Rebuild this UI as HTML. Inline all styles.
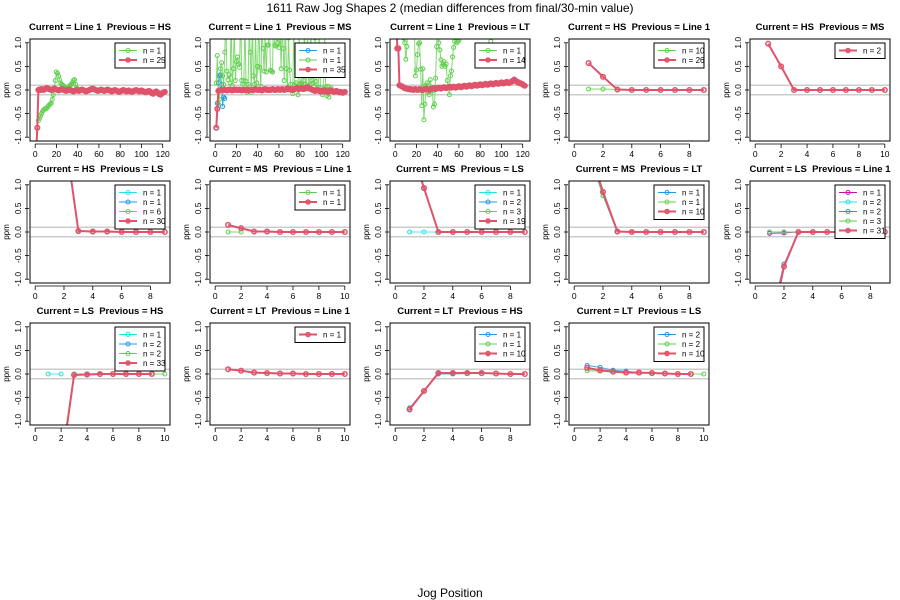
<!DOCTYPE html>
<html><head><meta charset="utf-8">
<style>
body{margin:0;background:#fff;}
svg{display:block;font-family:"Liberation Sans",sans-serif;}
text{white-space:pre;}
</style></head>
<body>
<svg id="chart" width="900" height="600" viewBox="0 0 900 600">
<rect x="0" y="0" width="900" height="600" fill="#fff"/>
<text x="450" y="12" text-anchor="middle" font-size="12" fill="#000">1611 Raw Jog Shapes 2 (median differences from final/30-min value)</text>
<text x="450" y="597" text-anchor="middle" font-size="12" fill="#000">Jog Position</text>
</svg>
<script>
// ---- data (values start at jog position 1) ----
const p1Green = [NaN,NaN,-0.65,-0.6,-0.55,-0.5,-0.45,-0.42,-0.4,-0.4,-0.38,-0.35,-0.32,-0.3,-0.28,-0.2,-0.1,0.05,0.2,0.38,0.35,0.3,0.22,0.15,0.12,0.1,0.08,0.05,0.04,0.05,0.06,0.08,0.1,0.12,0.15,0.2,0.22,0.12,0.05,0.02];
const p1Red = [-1.3,-0.8,0.0,0.01,0.0,0.02,0.01,0.0,0.02,0.03,0.04,0.03,0.02,0.01,0.0,0.01,0.02,0.03,0.02,0.01,
 0.0,-0.01,0.0,0.01,0.02,0.01,0.0,-0.01,-0.02,-0.01,0.0,0.01,0.0,-0.01,-0.02,-0.03,-0.02,-0.01,0.0,-0.01,
 -0.02,-0.01,0.0,0.01,0.0,-0.01,-0.02,-0.03,-0.02,-0.01,0.0,0.01,0.02,0.03,0.02,0.01,0.0,-0.01,-0.02,-0.01,
 0.0,0.01,0.0,-0.01,-0.02,-0.01,0.0,0.01,0.0,-0.01,-0.02,-0.03,-0.02,-0.01,0.0,-0.01,-0.02,-0.03,-0.04,-0.03,
 -0.02,-0.01,0.0,-0.01,-0.02,-0.03,-0.02,-0.01,-0.02,-0.03,-0.04,-0.03,-0.02,-0.01,0.0,-0.01,-0.02,-0.03,-0.02,-0.01,
 -0.02,-0.03,-0.04,-0.05,-0.04,-0.03,-0.02,-0.03,-0.05,-0.07,-0.08,-0.06,-0.04,-0.03,-0.05,-0.07,-0.09,-0.1,-0.08,-0.06,-0.05,-0.04];
const p2Blue = [-0.8,-0.28,0.15,0.3,0.32,0.12,-0.35,-0.15,-0.18];
const p2Green = [0.15,0.73,-0.3,-0.2,0.45,0.58,0.3,0.12,0.8,1.5,0.4,0.22,0.32,0.15,1.6,0.1,0.45,1.4,0.2,0.6,0.7,0.55,0.48,1.8,0.2,0.12,0.2,1.5,0.18,-0.05,
 0.12,1.3,0.8,-0.05,1.6,0.3,0.12,1.2,0.15,0.5,1.7,0.48,0.08,1.5,0.88,0.4,1.2,0.38,0.95,0.95,1.6,0.42,0.4,0.38,1.9,0.95,0.93,1.2,1.0,0.9,
 1.5,0.45,1.3,0.88,0.2,1.6,0.45,0.05,1.1,0.42,0.12,0.02,-0.08,1.4,0.1,0.15,0.05,-0.1,1.3,0.12,0.15,0.1,0.2,1.6,0.12,0.02,1.2,0.05,0.1,1.4,
 0.2,0.15,0.08,1.1,0.18,0.05,0.0,1.3,0.05,0.0,-0.1,0.02,1.2,0.05,-0.12,0.08,-0.15,0.02,0.05];
const p2Red = [-0.8,-0.4,-0.02,-0.01,0.0,0.0,-0.01,0.0,0.01,0.0,-0.01,0.0,0.01,0.0,0.0,-0.01,0.0,0.01,0.0,0.01,
 0.0,0.0,0.01,0.0,-0.01,0.0,0.0,0.01,0.0,0.0,-0.01,0.0,0.0,0.01,0.0,0.0,0.01,0.02,0.01,0.0,
 0.0,0.01,0.0,-0.01,0.0,0.01,0.02,0.01,0.0,0.01,0.0,0.0,0.01,0.02,0.01,0.0,0.0,0.01,0.02,0.01,
 0.0,0.01,0.02,0.01,0.0,0.01,0.02,0.03,0.02,0.01,0.02,0.01,0.0,0.01,0.02,0.03,0.04,0.03,0.02,0.03,
 0.04,0.03,0.02,0.03,0.04,0.05,0.06,0.04,0.03,0.02,0.01,0.0,-0.01,-0.02,-0.01,0.0,-0.01,-0.02,-0.03,-0.02,
 -0.03,-0.02,-0.01,-0.02,-0.03,-0.04,-0.03,-0.02,-0.01,-0.02,-0.03,-0.04,-0.03,-0.02,-0.03,-0.04,-0.05,-0.04,-0.05,-0.06,-0.05,-0.04];
const p3Green = [NaN,NaN,NaN,NaN,NaN,NaN,1.3,1.1,1.0,0.65,0.92,1.4,1.2,1.6,1.3,1.5,1.8,1.3,0.3,0.42,0.75,0.98,1.0,0.44,-0.33,0.45,-0.63,-0.3,0.1,0.15,
 -0.05,-0.1,0.22,0.05,-0.02,-0.36,-0.3,0.25,0.92,1.3,1.0,0.85,0.64,0.5,0.55,0.6,0.5,0.55,0.2,0.05,-0.1,0.3,0.4,0.7,0.9,1.03,1.2,1.0,1.03,1.05,
 NaN,NaN,NaN,NaN,NaN,NaN,NaN,NaN,NaN,NaN,NaN,NaN,NaN,NaN,NaN,NaN,NaN,NaN,NaN,NaN,NaN,NaN,NaN,NaN,NaN,NaN,NaN,NaN,NaN,1.03];
const p3Red = [1.5,0.88,0.88,0.1,0.09,0.08,0.07,0.05,0.04,0.03,0.03,0.02,0.02,0.01,0.02,0.01,0.0,0.01,0.02,0.01,
 0.0,0.01,0.02,0.01,0.0,0.0,0.01,0.02,0.03,0.02,0.01,0.0,0.01,0.02,0.03,0.04,0.03,0.02,0.03,0.04,
 0.05,0.04,0.03,0.04,0.05,0.06,0.05,0.04,0.05,0.06,0.07,0.06,0.05,0.06,0.07,0.06,0.05,0.06,0.07,0.08,
 0.07,0.06,0.07,0.08,0.09,0.08,0.07,0.08,0.09,0.1,0.09,0.08,0.09,0.1,0.11,0.1,0.09,0.1,0.11,0.12,
 0.11,0.1,0.11,0.12,0.13,0.12,0.11,0.12,0.13,0.14,0.13,0.12,0.13,0.14,0.15,0.14,0.13,0.14,0.15,0.16,
 0.15,0.14,0.15,0.16,0.17,0.16,0.15,0.16,0.17,0.18,0.2,0.22,0.2,0.18,0.17,0.16,0.15,0.14,0.13,0.12,0.1,0.09];
const p4Green = [0.02,0.02,0.01];
const p4Red = [0.57,0.28,0.01,0.0,0.0,0.0,0.0,0.0,0.0];
const p5Red = [0.98,0.5,0.0,0.0,0.0,0.0,0.0,0.0,0.0,0.0];
const p6Cyan = [NaN,NaN,0.02,0.0,0.0];
const p6Blue = [NaN,NaN,0.02,0.0,0.0];
const p6Green = [NaN,NaN,0.02,0.0,0.0,0.0];
const p6Red = [4.0,2.2,0.02,0.01,0.01,0.0,0.0,0.0,0.0];
const p7Green = [0.0,0.0];
const p7Red = [0.15,0.08,0.01,0.01,0.0,0.0,0.0,0.0,0.0,0.0];
const p8Cyan = [0.0,0.0,0.0];
const p8Blue = [NaN,0.93,0.0,0.0];
const p8Green = [NaN,0.93,0.0,0.0];
const p8Red = [1.9,0.93,0.0,0.0,0.0,0.0,0.0,0.0,0.0];
const p9Blue = [1.7,0.77,0.0,0.0];
const p9Green = [1.7,0.77,0.0,0.0];
const p9Red = [1.8,0.85,0.01,0.0,0.0,0.0,0.0,0.0,0.0];
const p10Magenta = [-0.03,-0.02,0.0];
const p10Cyan = [0.0,0.0,0.0];
const p10Blue = [-1.9,-0.68,0.0,0.0];
const p10Green = [0.0,0.0,0.0,0.0];
const p10Red = [-2.2,-0.73,0.0,0.0,0.0,0.0,0.0,0.0,0.0];
const p11Cyan = [0.0,0.0];
const p11Blue = [NaN,-1.9,-0.02,-0.02,-0.01];
const p11Green = [NaN,-1.8,0.0,0.0,0.0,0.0,0.0,0.0,0.0,0.0];
const p11Red = [NaN,-2.0,-0.02,-0.01,0.0,0.0,0.0,0.0,0.0];
const p12Red = [0.1,0.07,0.03,0.02,0.01,0.01,0.0,0.0,0.0,0.0];
const p13Blue = [-0.72,-0.36,0.0,0.0,0.01,0.01];
const p13Green = [-0.75,-0.36,0.02,0.02,0.02];
const p13Red = [-0.75,-0.36,0.02,0.02,0.02,0.02,0.01,0.0,0.0];
const p14Blue = [0.18,0.14,0.08,0.06,0.03,0.02];
const p14Green = [0.07,0.06,0.04,0.03,0.02,0.02,0.01,0.0,0.0,0.0];
const p14Red = [0.13,0.08,0.05,0.03,0.03,0.02,0.01,0.0,0.0];
const panelTitles = ["Current = Line 1  Previous = HS","Current = Line 1  Previous = MS","Current = Line 1  Previous = LT","Current = HS  Previous = Line 1","Current = HS  Previous = MS",
 "Current = HS  Previous = LS","Current = MS  Previous = Line 1","Current = MS  Previous = LS","Current = MS  Previous = LT","Current = LS  Previous = Line 1",
 "Current = LS  Previous = HS","Current = LT  Previous = Line 1","Current = LT  Previous = HS","Current = LT  Previous = LS"];
const panelXmax = [122,122,122,9,10,9,10,9,9,9,10,10,9,10];
const xTicksDense = [0,20,40,60,80,100,120];
const xTicks9 = [0,2,4,6,8];
const xTicks10 = [0,2,4,6,8,10];
const yTicks = [-1.0,-0.5,0.0,0.5,1.0];
const yTickLabels = ["-1.0","-0.5","0.0","0.5","1.0"];

const RED="#DF536B",GREEN="#61D04F",BLUE="#2297E6",CYAN="#28E2E5",MAG="#CD0BBC";
const panelSeries = [
 [[GREEN,"n = 1",p1Green],[RED,"n = 25",p1Red]],
 [[BLUE,"n = 1",p2Blue],[GREEN,"n = 1",p2Green],[RED,"n = 35",p2Red]],
 [[GREEN,"n = 1",p3Green],[RED,"n = 14",p3Red]],
 [[GREEN,"n = 10",p4Green],[RED,"n = 26",p4Red]],
 [[RED,"n = 2",p5Red]],
 [[CYAN,"n = 1",p6Cyan],[BLUE,"n = 1",p6Blue],[GREEN,"n = 6",p6Green],[RED,"n = 30",p6Red]],
 [[GREEN,"n = 1",p7Green],[RED,"n = 1",p7Red]],
 [[CYAN,"n = 1",p8Cyan],[BLUE,"n = 2",p8Blue],[GREEN,"n = 3",p8Green],[RED,"n = 19",p8Red]],
 [[BLUE,"n = 1",p9Blue],[GREEN,"n = 1",p9Green],[RED,"n = 10",p9Red]],
 [[MAG,"n = 1",p10Magenta],[CYAN,"n = 2",p10Cyan],[BLUE,"n = 2",p10Blue],[GREEN,"n = 3",p10Green],[RED,"n = 31",p10Red]],
 [[CYAN,"n = 1",p11Cyan],[BLUE,"n = 2",p11Blue],[GREEN,"n = 2",p11Green],[RED,"n = 33",p11Red]],
 [[RED,"n = 1",p12Red]],
 [[BLUE,"n = 1",p13Blue],[GREEN,"n = 1",p13Green],[RED,"n = 10",p13Red]],
 [[BLUE,"n = 2",p14Blue],[GREEN,"n = 2",p14Green],[RED,"n = 10",p14Red]]
];

const NS="http://www.w3.org/2000/svg";
const svg=document.getElementById('chart');
function mk(tag,attrs,parent){const e=document.createElementNS(NS,tag);for(const k in attrs)e.setAttribute(k,attrs[k]);(parent||svg).appendChild(e);return e;}
const colLeft=[30,210,390,569,750], rowTop=[39,181,323], W=140, H=102;
const YMIN=-1.08,YMAX=1.08;

panelTitles.forEach((title,i)=>{
  const L=colLeft[i%5], T=rowTop[Math.floor(i/5)];
  const xmax=panelXmax[i], x0=-0.04*xmax, x1=xmax*1.04;
  const sx=v=>L+(v-x0)/(x1-x0)*W;
  const sy=v=>T+H-(v-YMIN)/(YMAX-YMIN)*H;
  const g=mk('g',{});
  
  
  const cp=mk('clipPath',{id:'clip'+i},g);
  mk('rect',{x:L,y:T,width:W,height:H},cp);
  const t=mk('text',{x:L+W/2,y:T-9,'text-anchor':'middle','font-size':'9.5','font-weight':'bold'},g);
  t.textContent=title;
  
  
  [0.1,-0.1].forEach(v=>{
    const r=mk('line',{x1:L,x2:L+W,y1:sy(v),y2:sy(v),stroke:'#cccccc','stroke-width':1.5},g);
    
    
  });
  yTicks.forEach((v,k)=>{
    mk('line',{x1:L-5,x2:L-1,y1:sy(v),y2:sy(v),stroke:'#000','stroke-width':0.8},g);
    const tl=mk('text',{x:0,y:0,'font-size':'8.5','text-anchor':'middle',transform:`translate(${L-9},${sy(v)}) rotate(-90)`},g);
    tl.textContent=yTickLabels[k];
    
    
  });
  mk('line',{x1:L-3,x2:L-3,y1:sy(-1),y2:sy(1),stroke:'#000','stroke-width':0.8},g);
  const yl=mk('text',{x:0,y:0,'font-size':'8','text-anchor':'middle',transform:`translate(${L-21},${T+H/2}) rotate(-90)`},g);
  yl.textContent='ppm';
  
  
  const xt = xmax>50?xTicksDense:(xmax===9?xTicks9:xTicks10);
  mk('line',{x1:sx(xt[0]),x2:sx(xt[xt.length-1]),y1:T+H+3,y2:T+H+3,stroke:'#000','stroke-width':0.8},g);
  xt.forEach(v=>{
    mk('line',{x1:sx(v),x2:sx(v),y1:T+H+3,y2:T+H+7,stroke:'#000','stroke-width':0.8},g);
    const tl=mk('text',{x:sx(v),y:T+H+16,'font-size':'8.5','text-anchor':'middle'},g);
    tl.textContent=String(v);
    
    
  });
  const sg=mk('g',{'clip-path':`url(#clip${i})`},g);
  panelSeries[i].forEach(([col,lab,vals])=>{
    const isRed=col===RED;
    let d='',pen=false;
    vals.forEach((v,j)=>{
      if(isNaN(v)){pen=false;return;}
      d+=(pen?'L':'M')+sx(j+1).toFixed(2)+' '+sy(v).toFixed(2)+' ';pen=true;
    });
    const p=mk('path',{d:d,fill:'none',stroke:col,'stroke-width':isRed?2:1,'stroke-opacity':isRed?1:0.8},sg);
    
    
    vals.forEach((v,j)=>{
      if(isNaN(v))return;
      const c=mk('circle',{cx:sx(j+1),cy:sy(v),r:isRed?2.3:2,fill:'none',stroke:col,'stroke-width':isRed?1.5:1},sg);
      
      
    });
  });
  const n=panelSeries[i].length, lw=50, lh=n*9.5+6;
  const lx=L+W-lw-5, ly=T+4;
  const lg=mk('g',{},g);
  
  
  mk('rect',{x:lx,y:ly,width:lw,height:lh,fill:'#fff',stroke:'#000','stroke-width':1},lg);
  panelSeries[i].forEach(([col,lab],k)=>{
    const yy=ly+7.5+k*9.5, isRed=col===RED;
    mk('line',{x1:lx+4,x2:lx+22,y1:yy,y2:yy,stroke:col,'stroke-width':isRed?2:1},lg);
    mk('circle',{cx:lx+13,cy:yy,r:2,fill:'none',stroke:col,'stroke-width':isRed?1.5:1},lg);
    const tx=mk('text',{x:lx+28,y:yy+3,'font-size':'8'},lg);
    tx.textContent=lab;
    
    
  });
  mk('rect',{x:L,y:T,width:W,height:H,fill:'none',stroke:'#000','stroke-width':1},g);
});
</script>
</body></html>
